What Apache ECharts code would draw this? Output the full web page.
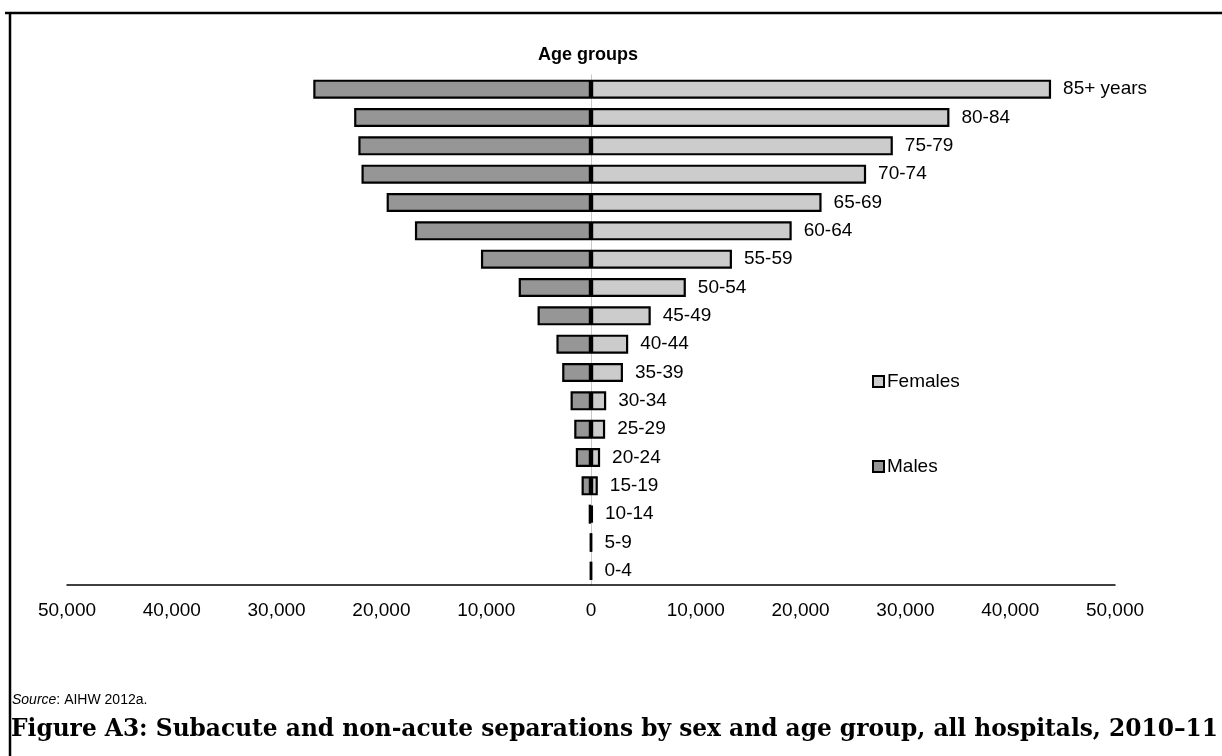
<!DOCTYPE html>
<html>
<head>
<meta charset="utf-8">
<script src="https://cdn.jsdelivr.net/npm/echarts@6/dist/echarts.min.js"></script>
<style>
  html, body { margin: 0; padding: 0; background: #fff; }
  #main { width: 1222px; height: 756px; }
</style>
</head>
<body>
<div id="main"></div>
<script>
// age groups, bottom to top
const ageGroups = ['0-4', '5-9', '10-14', '15-19', '20-24', '25-29', '30-34', '35-39', '40-44',
	'45-49', '50-54', '55-59', '60-64', '65-69', '70-74', '75-79', '80-84', '85+ years'];
// male values (plotted to the left)
const males = [60, 60, 220, 900, 1450, 1600, 1950, 2750, 3300, 5100, 6900, 10500, 16800, 19500, 21900, 22200, 22600, 26500];
// female values (plotted to the right)
const females = [60, 60, 180, 650, 870, 1350, 1450, 3050, 3550, 5700, 9050, 13450, 19150, 22000, 26250, 28800, 34200, 43900];
const xTicks = [-50000, -40000, -30000, -20000, -10000, 0, 10000, 20000, 30000, 40000, 50000];

const chart = echarts.init(document.getElementById('main'));

const option = {
	backgroundColor: '#fff',
	animation: false,
	textStyle: { fontFamily: 'Liberation Sans, Arial, sans-serif', color: '#000' },
	grid: { left: 67, right: 107, top: 75, bottom: 171, containLabel: false },
	legend: {
		orient: 'vertical',
		left: 872,
		top: 372,
		padding: 0,
		itemGap: 66,
		itemWidth: 11,
		itemHeight: 11,
		icon: 'rect',
		textStyle: { fontSize: 19, color: '#000', padding: [0, 0, 0, -2] },
		data: ['Females', 'Males']
	},
	xAxis: {
		type: 'value',
		min: xTicks[0],
		max: xTicks[xTicks.length - 1],
		interval: 10000,
		splitLine: { show: false },
		axisTick: { show: false },
		axisLine: { show: true, lineStyle: { color: '#000', width: 1.5 } },
		axisLabel: {
			fontSize: 19,
			color: '#000',
			margin: 16,
			formatter: v => Math.abs(v).toLocaleString('en-US')
		}
	},
	yAxis: {
		type: 'category',
		data: ageGroups,
		axisTick: { show: false },
		axisLabel: { show: false },
		axisLine: { show: true, onZero: true, lineStyle: { color: '#c8c8c8', width: 1 } }
	},
	series: [
		{
			name: 'Males',
			type: 'bar',
			barWidth: 19,
			barGap: '-100%',
			data: males.map(v => -v),
			itemStyle: { color: '#969696', borderColor: '#000', borderWidth: 2.2 }
		},
		{
			name: 'Females',
			type: 'bar',
			barWidth: 19,
			data: females,
			itemStyle: { color: '#cccccc', borderColor: '#000', borderWidth: 2.2 },
			label: {
				show: true,
				position: 'right',
				distance: 12,
				fontSize: 19,
				color: '#000',
				formatter: p => ageGroups[p.dataIndex]
			}
		}
	],
	graphic: [
		{ type: 'line', shape: { x1: 5, y1: 13, x2: 1222, y2: 13 }, style: { stroke: '#000', lineWidth: 2.5 } },
		{ type: 'line', shape: { x1: 10, y1: 13, x2: 10, y2: 756 }, style: { stroke: '#000', lineWidth: 2.5 } },
		{
			type: 'text',
			style: {
				x: 588, y: 55,
				text: 'Age groups',
				font: 'bold 18px Liberation Sans, Arial, sans-serif',
				fill: '#000',
				textAlign: 'center',
				textVerticalAlign: 'middle'
			}
		},
		{
			type: 'text',
			style: {
				x: 12, y: 700,
				text: '{i|Source}: AIHW 2012a.',
				font: '14px Liberation Sans, Arial, sans-serif',
				fill: '#000',
				textVerticalAlign: 'middle',
				rich: { i: { fontStyle: 'italic', fontSize: 14, fontFamily: 'Liberation Sans, Arial, sans-serif' } }
			}
		},
		{
			type: 'text',
			style: {
				x: 11, y: 730,
				text: 'Figure A3: Subacute and non-acute separations by sex and age group, all hospitals, 2010\u201311',
				font: 'bold 23.3px DejaVu Serif, serif',
				fill: '#000',
				textVerticalAlign: 'middle'
			}
		}
	]
};

chart.setOption(option);
</script>
</body>
</html>
